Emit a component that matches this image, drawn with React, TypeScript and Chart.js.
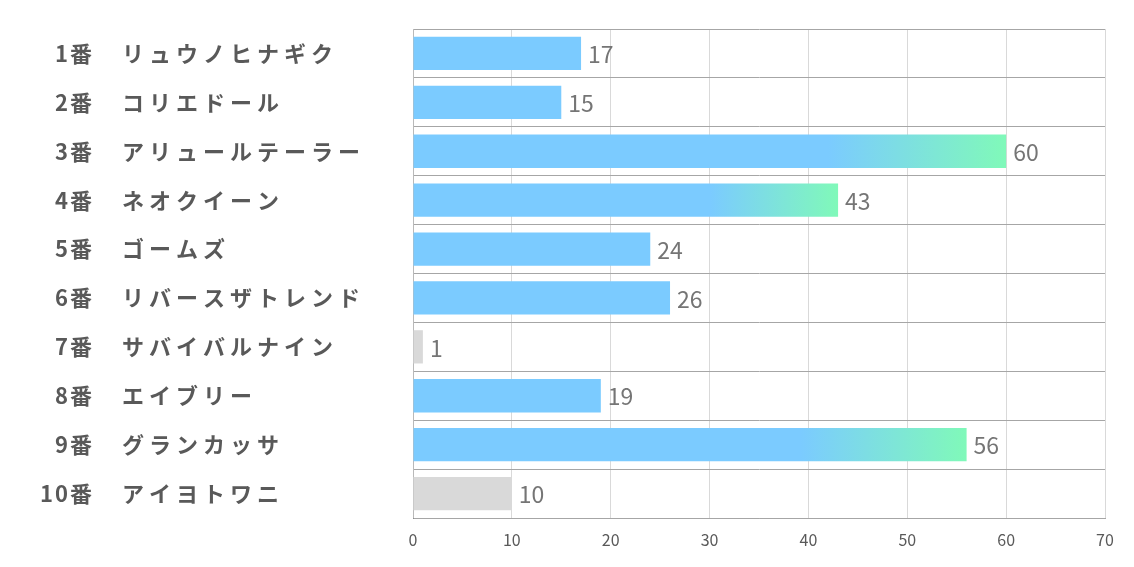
import React, { useEffect, useRef } from "react";
import { Chart, registerables } from "chart.js";

Chart.register(...registerables);

const numbers = ["1番", "2番", "3番", "4番", "5番", "6番", "7番", "8番", "9番", "10番"];
const names = [
  "リュウノヒナギク",
  "コリエドール",
  "アリュールテーラー",
  "ネオクイーン",
  "ゴームズ",
  "リバースザトレンド",
  "サバイバルナイン",
  "エイブリー",
  "グランカッサ",
  "アイヨトワニ",
];
const values = [17, 15, 60, 43, 24, 26, 1, 19, 56, 10];
const xTicks = [0, 10, 20, 30, 40, 50, 60, 70];

const BLUE = "rgb(123,203,255)";
const GREEN = "rgb(128,249,185)";
const GRAY = "rgb(217,217,217)";
const FONT = "'Noto Sans CJK JP', 'Noto Sans', sans-serif";

const sorted = [...values].sort((a, b) => b - a);
const topSet = sorted.slice(0, 3);
const lowSet = sorted.slice(-2);

export default function App() {
  const ref = useRef<HTMLCanvasElement | null>(null);

  useEffect(() => {
    if (!ref.current) return;
    const labelPlugin = {
      id: "labels",
      afterDatasetsDraw(chart: any) {
        const { ctx } = chart;
        const meta = chart.getDatasetMeta(0);
        ctx.save();
        ctx.font = `23px ${FONT}`;
        ctx.fillStyle = "#757575";
        ctx.textAlign = "left";
        ctx.textBaseline = "middle";
        meta.data.forEach((el: any, i: number) => {
          ctx.fillText(String(values[i]), el.x + 7, el.y + 1);
        });
        ctx.restore();
      },
      afterDraw(chart: any) {
        const { ctx } = chart;
        const y = chart.scales.y;
        ctx.save();
        ctx.fillStyle = "#595959";
        ctx.textBaseline = "middle";
        ctx.font = `bold 22px ${FONT}`;
        numbers.forEach((n, i) => {
          const py = y.getPixelForValue(i);
          ctx.textAlign = "right";
          (ctx as any).letterSpacing = "2px";
          ctx.fillText(n, 94, py);
          ctx.textAlign = "left";
          (ctx as any).letterSpacing = "5px";
          ctx.fillText(names[i], 122, py);
        });
        (ctx as any).letterSpacing = "0px";
        ctx.restore();
      },
    };

    const chart = new Chart(ref.current, {
      type: "bar",
      data: {
        labels: numbers.map((n, i) => n + "　" + names[i]),
        datasets: [
          {
            data: values,
            barPercentage: 0.68,
            categoryPercentage: 1,
            borderWidth: 0,
            backgroundColor: (c: any) => {
              const v = values[c.dataIndex];
              if (lowSet.includes(v)) return GRAY;
              if (!topSet.includes(v)) return BLUE;
              const chartObj = c.chart;
              const xs = chartObj.scales && chartObj.scales.x;
              if (!xs || !chartObj.chartArea) return BLUE;
              const x0 = xs.getPixelForValue(v * 0.7);
              const x1 = xs.getPixelForValue(v);
              const g = chartObj.ctx.createLinearGradient(x0, 0, x1, 0);
              g.addColorStop(0, BLUE);
              g.addColorStop(1, GREEN);
              return g;
            },
          },
        ],
      },
      options: {
        indexAxis: "y",
        responsive: true,
        maintainAspectRatio: false,
        animation: false,
        layout: { padding: { left: 413, right: 29, top: 29, bottom: 0 } },
        plugins: {
          legend: { display: false },
          tooltip: { enabled: false },
        },
        scales: {
          x: {
            type: "linear",
            min: 0,
            max: 70,
            z: 1,
            afterFit: (s: any) => {
              s.height = 49;
            },
            afterBuildTicks: (s: any) => {
              s.ticks = xTicks.map((v) => ({ value: v }));
            },
            grid: { color: "rgba(0,0,0,0.15)", drawTicks: false },
            border: { color: "#a6a6a6", width: 1 },
            ticks: {
              padding: 12,
              color: "#595959",
              font: { family: FONT, size: 16 },
            },
          },
          y: {
            type: "category",
            afterFit: (s: any) => {
              s.width = 0;
            },
            grid: { color: "#a6a6a6", drawTicks: false, offset: true },
            border: { color: "rgba(0,0,0,0.15)", width: 1 },
            ticks: { display: false },
          },
        },
      },
      plugins: [labelPlugin],
    } as any);
    return () => chart.destroy();
  }, []);

  return (
    <div style={{ position: "absolute", left: 0, top: 0, width: 1134, height: 567, background: "#fff" }}>
      <canvas ref={ref} />
    </div>
  );
}
